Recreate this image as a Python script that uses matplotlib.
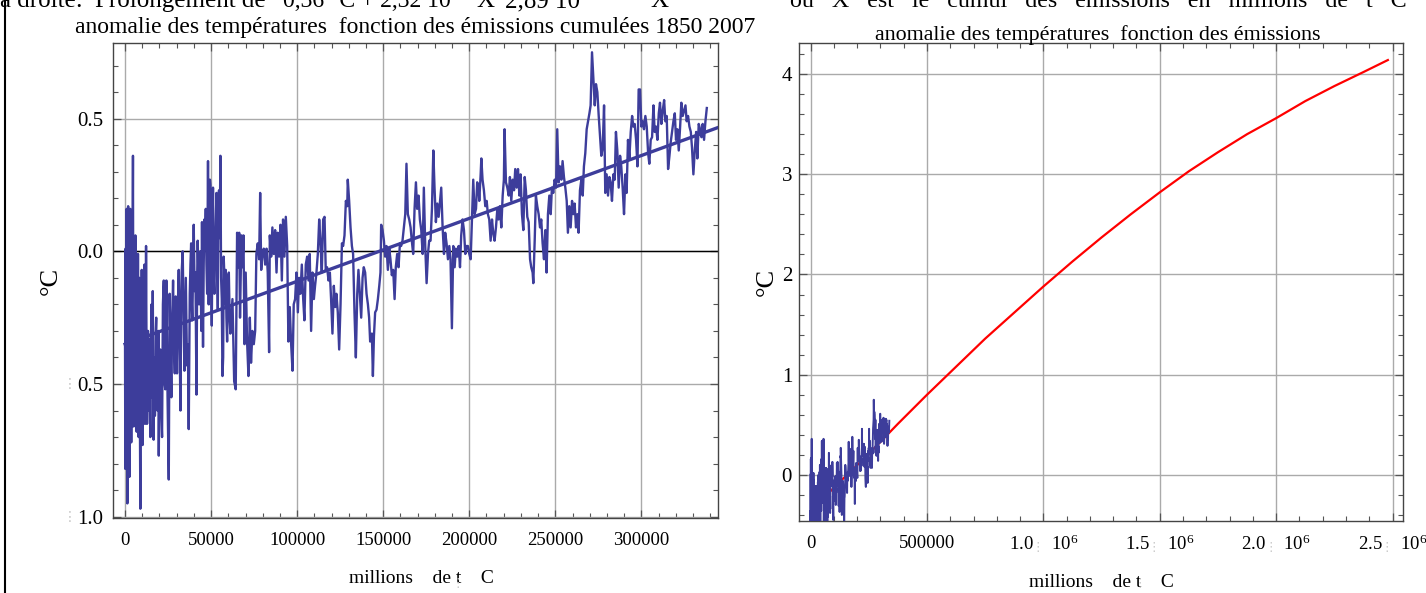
import matplotlib.pyplot as plt
from matplotlib.lines import Line2D
from matplotlib.ticker import MultipleLocator, FixedLocator
import matplotlib.transforms as mtransforms

plt.rcParams['font.family'] = ['Liberation Serif', 'DejaVu Sans']
plt.rcParams['mathtext.fontset'] = 'custom'
plt.rcParams['mathtext.rm'] = 'Liberation Serif'

# cumulative emissions (millions of t C) / temperature anomaly (deg C)
# 1) the dense start, 0 - 62000
emis_a = [
    0, 150, 300, 450, 600, 750, 900, 1050, 1200, 1350, 1500, 1650, 1800, 1950, 2100, 2250, 2400,
    2550, 2700, 2850, 3000, 3200, 3400, 3600, 3800, 4000, 4300, 4600, 4800, 5000, 5200, 5400,
    5600, 5800, 6000, 6250, 6500, 6750, 7000, 7250, 7500, 7700, 7900, 8100, 8300, 8600, 8900,
    9100, 9300, 9500, 9700, 9950, 10200, 10500, 10800, 11050, 11300, 11550, 11800, 12000, 12200,
    12500, 12800, 13050, 13300, 13800, 14300, 14500, 14700, 15000, 15400, 15750, 16100, 16350,
    16600, 16850, 17100, 17350, 17600, 17850, 18100, 18350, 18600, 18850, 19100, 19350, 19600,
    19850, 20100, 20500, 21000, 21500, 22000, 22500, 23000, 23400, 24000, 24700, 25400, 25900,
    26400, 26900, 27400, 27900, 28400, 28900, 29400, 30200, 30700, 31200, 31700, 32200, 32600,
    32900, 33500, 34000, 34500, 35300, 35700, 36000, 36500, 37000, 37600, 38000, 38400, 38800,
    39100, 39900, 40400, 40900, 41500, 41900, 42200, 43000, 43400, 43800, 44300, 44700, 45300,
    45700, 46100, 46500, 46900, 47300, 47700, 48200, 48600, 49000, 49300, 49600, 50000, 50400,
    50800, 51100, 51500, 51900, 52500, 53100, 53500, 53900, 54300, 54600, 55000, 55400, 55800,
    56200, 56600, 57000, 57300, 57700, 58100, 58500, 58900, 59300, 59800, 60300, 60800, 61200,
]
anom_a = [
    -0.36, -0.82, 0.01, -0.65, -0.20, -0.78, 0.16, -0.55, 0.15, -0.95, -0.35, -0.70, 0.17, -0.50,
    -0.77, 0.10, -0.45, -0.85, -0.05, -0.60, 0.16, -0.62, -0.15, -0.72, -0.05, -0.66, -0.10,
    0.36, -0.40, -0.66, -0.05, 0.05, -0.55, -0.20, 0.06, -0.59, -0.30, -0.68, -0.20, -0.55,
    -0.01, -0.45, -0.70, -0.30, -0.10, -0.60, -0.97, -0.50, -0.30, -0.65, -0.07, -0.45, -0.73,
    -0.40, -0.65, -0.35, -0.05, -0.45, -0.65, -0.30, 0.02, -0.40, -0.65, -0.45, -0.30, -0.60,
    -0.33, -0.60, -0.70, -0.35, -0.20, -0.55, -0.15, -0.45, -0.71, -0.50, -0.40, -0.62, -0.56,
    -0.30, -0.25, -0.50, -0.38, -0.60, -0.55, -0.30, -0.77, -0.55, -0.40, -0.37, -0.60, -0.70,
    -0.20, -0.11, -0.50, -0.52, -0.11, -0.55, -0.86, -0.16, -0.35, -0.55, -0.25, -0.11, -0.35,
    -0.46, -0.17, -0.46, -0.20, -0.07, -0.35, -0.60, -0.20, -0.08, 0.00, -0.25, -0.45, -0.10,
    -0.30, -0.43, -0.35, -0.67, -0.16, -0.05, 0.03, -0.20, -0.26, 0.10, -0.15, -0.08, -0.54,
    -0.10, 0.04, -0.20, -0.08, 0.00, -0.30, 0.11, -0.36, -0.05, 0.12, 0.05, 0.16, -0.05, -0.16,
    0.34, -0.20, 0.07, 0.27, 0.25, -0.10, -0.28, 0.10, 0.24, -0.10, -0.16, 0.05, 0.22, -0.05,
    -0.22, 0.20, 0.23, 0.05, 0.36, -0.10, -0.18, -0.47, -0.40, -0.02, -0.09, -0.20, -0.07,
    -0.25, -0.34, -0.10, -0.08, -0.26, -0.31,
]
# 2) 62000 - 134000
emis_b = [
    62400, 63400, 64300, 65100, 65900, 66300, 66800, 67600, 68200, 68800, 69400, 70100, 70900,
    71700, 72500, 73200, 74000, 74800, 75600, 76300, 77100, 77900, 78500, 79100, 79800, 80600,
    81400, 82200, 82900, 83700, 84100, 84900, 85600, 86400, 87200, 88000, 88700, 89500, 90300,
    91100, 91800, 92600, 93400, 94200, 94900, 95700, 96500, 97300, 98000, 98800, 99600, 100400,
    101100, 101900, 102700, 103500, 104200, 105000, 105800, 106600, 107300, 108100, 108900,
    109700, 110400, 111200, 112000, 112800, 113500, 114300, 115100, 115900, 116600, 117400,
    118200, 119000, 119700, 120500, 121300, 122100, 122800, 123600, 124400, 125200, 126000,
    126700, 127500, 128300, 129100, 129400, 130200, 131000, 131800, 132500, 133300, 134100,
]
anom_b = [
    -0.18, -0.49, -0.52, 0.07, -0.06, 0.07, -0.25, 0.06, -0.06, 0.06, -0.35, -0.08, -0.34,
    -0.47, -0.25, -0.42, -0.30, -0.35, -0.30, -0.01, 0.03, -0.03, 0.22, -0.07, -0.01, 0.01,
    -0.05, 0.01, -0.08, -0.38, 0.06, -0.02, 0.09, -0.01, 0.08, -0.08, 0.07, -0.02, 0.10,
    -0.11, 0.12, -0.02, 0.13, 0.02, -0.34, -0.21, -0.35, -0.45, -0.20, -0.18, -0.08, -0.23,
    -0.10, -0.16, -0.05, -0.18, -0.26, -0.05, -0.02, -0.11, -0.01, -0.30, -0.08,
    -0.18, -0.13, -0.08, -0.01, 0.12, 0.04, -0.08, 0.12, 0.13, -0.07, -0.06,
    -0.11, -0.08, -0.18, -0.31, -0.13, -0.21, -0.16, -0.23, -0.37, -0.20, 0.03,
    0.02, 0.06, 0.19, 0.17, 0.27, 0.19, 0.09, 0.02, -0.01, -0.23, -0.40,
]
# 3) 134000 - 206000
emis_c = [
    134900, 135600, 136400, 137200, 138000, 138700, 139500, 140300, 141100, 141800, 142400,
    143400, 144000, 144600, 145300, 146100, 146900, 147700, 148400, 148800, 149600, 150400,
    151100, 151900, 152700, 153500, 154200, 155000, 155800, 156600, 157300, 158100, 158900,
    159700, 160400, 161200, 162000, 162800, 163500, 164300, 165100, 165900, 166600, 167400,
    168200, 169000, 169700, 170500, 171300, 172100, 172900, 173600, 174400, 175200, 176000,
    176700, 177500, 178300, 179100, 179800, 180600, 181400, 182200, 182900, 183700, 184500,
    185300, 186000, 186800, 187600, 188400, 189100, 189900, 190700, 191500, 192200, 193000,
    193800, 194600, 195300, 196100, 196900, 197700, 198400, 199200, 200000, 200800, 201500,
    202300, 203100, 203900, 204600, 205400,
]
anom_c = [
    -0.16, -0.07, -0.16, -0.25, -0.10, -0.06, -0.08, -0.16, -0.20, -0.25, -0.34,
    -0.31, -0.47, -0.32, -0.23, -0.22, -0.18, -0.13, -0.08, 0.10, 0.08, 0.04,
    -0.02, 0.02, -0.07, 0.01, -0.03, -0.09, -0.07, -0.18, -0.06, -0.01, -0.06,
    0.03, 0.02, 0.04, 0.09, 0.14, 0.33, 0.14, 0.12, 0.09, 0.04, -0.01,
    0.16, 0.26, 0.16, 0.21, 0.12, 0.08, -0.01, 0.24, 0.02, -0.12, -0.01,
    0.04, 0.04, 0.16, 0.38, 0.24, 0.11, 0.18, 0.13, 0.18, 0.24, 0.09,
    -0.01, 0.07, 0.03, -0.03, 0.02, -0.03, -0.29, 0.02, -0.06, 0.01, -0.02,
    0.02, -0.06, 0.06, 0.12, 0.08, -0.01, 0.02, 0.02, -0.01, -0.03, 0.11,
    0.27, 0.14, 0.16, 0.26, 0.24,
]
# 4) 206000 - 276000
emis_d = [
    205800, 206600, 207000, 207700, 208500, 209300, 210100, 210800, 211600, 212400, 213200,
    213900, 214700, 215500, 216300, 217000, 217800, 218600, 219400, 220100, 220500, 221300,
    222100, 222900, 223600, 224400, 225200, 226000, 226700, 227500, 228300, 229100, 229800,
    230600, 231400, 232200, 232900, 233700, 234500, 235300, 236000, 236800, 237200, 238000,
    238700, 239500, 240300, 241100, 241800, 242600, 243400, 244200, 244900, 245700, 246500,
    247300, 248000, 248800, 249600, 250400, 251100, 251900, 252700, 253500, 254200, 255000,
    255800, 256600, 257300, 258100, 258900, 259700, 260400, 261200, 262000, 262800, 263500,
    264300, 265100, 265900, 266600, 267400, 268200, 269000, 269800, 270500, 271300, 272100,
    272900, 273600, 274400, 275200,
]
anom_d = [
    0.19, 0.29, 0.35, 0.27, 0.23, 0.17, 0.19, 0.14, 0.12, 0.04, 0.12,
    0.07, 0.04, 0.09, 0.16, 0.12, 0.17, 0.09, 0.21, 0.27, 0.46, 0.26,
    0.24, 0.21, 0.28, 0.19, 0.27, 0.23, 0.31, 0.24, 0.31, 0.21, 0.29,
    0.14, 0.08, 0.28, 0.23, 0.13, 0.11, -0.03, -0.06, -0.08, -0.12, 0.04,
    0.21, 0.17, 0.14, 0.09, 0.12, 0.03, -0.03, 0.08, -0.08, 0.14, 0.21,
    0.14, 0.24, 0.22, 0.27, 0.24, 0.46, 0.26, 0.32, 0.27, 0.34, 0.28,
    0.24, 0.19, 0.07, 0.17, 0.09, 0.19, 0.14, 0.18, 0.09, 0.14, 0.07,
    0.23, 0.27, 0.21, 0.32, 0.37, 0.46, 0.49, 0.52, 0.55, 0.75, 0.65,
    0.55, 0.63, 0.60, 0.51,
]
# 5) 276000 - 338000
emis_e = [
    276700, 277500, 278300, 279000, 279800, 280600, 281400, 282100, 282900, 283700, 284500,
    285200, 286000, 286800, 287600, 288300, 289100, 289900, 290700, 291400, 292200, 293000,
    293800, 294600, 295300, 296100, 296900, 297700, 298400, 299200, 300000, 300800, 301500,
    302300, 303100, 303900, 304600, 305400, 306200, 307000, 307700, 308500, 309300, 310100,
    310800, 311600, 312400, 313200, 313900, 314700, 315500, 316300, 317000, 317800, 318600,
    319400, 320100, 320900, 321700, 322500, 323200, 324000, 324800, 325600, 326300, 327100,
    327900, 328700, 329400, 330200, 331000, 331800, 332500, 333300, 334100, 334900, 335600,
    336400, 337200, 338000,
]
anom_e = [
    0.36, 0.39, 0.55, 0.22, 0.29, 0.21, 0.28, 0.26, 0.19, 0.29, 0.27,
    0.45, 0.38, 0.24, 0.36, 0.32, 0.24, 0.14, 0.29, 0.22, 0.42, 0.35,
    0.45, 0.51, 0.47, 0.48, 0.42, 0.32, 0.61, 0.61, 0.47, 0.49, 0.46,
    0.51, 0.47, 0.37, 0.33, 0.42, 0.43, 0.55, 0.45, 0.47, 0.42, 0.52,
    0.56, 0.48, 0.53, 0.57, 0.49, 0.51, 0.31, 0.36, 0.41, 0.45, 0.49,
    0.52, 0.42, 0.46, 0.38, 0.47, 0.56, 0.51, 0.53, 0.55, 0.49, 0.51,
    0.47, 0.45, 0.39, 0.29, 0.38, 0.45, 0.35, 0.48, 0.46, 0.43, 0.48,
    0.42, 0.49, 0.54,
]
emis = emis_a + emis_b + emis_c + emis_d + emis_e
anom = anom_a + anom_b + anom_c + anom_d + anom_e

# linear fit on the left panel
fit_x = [0, 346000]
fit_y = [-0.35, 0.47]

# red extension on the right panel
ext_x = [0, 125000, 250000, 375000, 500000, 625000, 750000, 875000, 1000000, 1125000, 1250000,
         1375000, 1500000, 1625000, 1750000, 1875000, 2000000, 2125000, 2250000, 2375000, 2480000]
ext_y = [-0.36, -0.07, 0.21, 0.51, 0.80, 1.08, 1.36, 1.62, 1.88, 2.13, 2.37,
         2.60, 2.82, 3.03, 3.22, 3.40, 3.56, 3.73, 3.88, 4.02, 4.14]

left_yticks = [-1.0, -0.5, 0.0, 0.5]
left_ylabels = ['1.0', '0.5', '0.0', '0.5']
left_xticks = [0, 50000, 100000, 150000, 200000, 250000, 300000]
left_xlabels = ['0', '50000', '100000', '150000', '200000', '250000', '300000']
right_xticks = [0, 500000, 1000000, 1500000, 2000000, 2500000]
right_xlabels = ['0', '500000', '1.0    $\\mathregular{10^6}$', '1.5    $\\mathregular{10^6}$',
                 '2.0    $\\mathregular{10^6}$', '2.5    $\\mathregular{10^6}$']
right_yticks = [0, 1, 2, 3, 4]

blue = '#3d3d9b'
W, H = 1426, 593

fig = plt.figure(figsize=(W / 100, H / 100), dpi=100)
ax1 = fig.add_axes([113 / W, 75 / H, 605 / W, 475 / H])
ax2 = fig.add_axes([799 / W, 72 / H, 604 / W, 478 / H])


def frame(ax):
    for s in ax.spines.values():
        s.set_color('#444444')
        s.set_linewidth(1.0)
    ax.tick_params(which='both', direction='in', top=True, right=True, color='#555555')
    ax.tick_params(which='major', length=6, width=0.9)
    ax.tick_params(which='minor', length=3.5, width=0.8)
    ax.tick_params(axis='x', pad=10, labelsize=13.5)
    ax.tick_params(axis='y', pad=7, labelsize=15)
    ax.grid(True, which='major', color='#aaaaaa', linewidth=1.0)
    ax.set_axisbelow(True)


def faint(x, y, transform, size=10):
    # grey box glyph left where a sign was lost in the export
    fig.text(x, y, '⋮', transform=transform, ha='center', va='center', fontsize=size,
             color='#c8c8c8', family='DejaVu Sans')


# left panel
frame(ax1)
ax1.plot(emis, anom, color=blue, lw=1.7, zorder=3)
ax1.plot(fit_x, fit_y, color=blue, lw=2.4, zorder=4)
ax1.axhline(0, color='black', lw=1.0, zorder=2)
ax1.set_xlim(-7000, 344500)
ax1.set_ylim(-1.005, 0.785)
ax1.xaxis.set_major_locator(FixedLocator(left_xticks))
ax1.set_xticklabels(left_xlabels)
ax1.xaxis.set_minor_locator(MultipleLocator(10000))
ax1.yaxis.set_major_locator(FixedLocator(left_yticks))
ax1.set_yticklabels(left_ylabels)
ax1.yaxis.set_minor_locator(MultipleLocator(0.1))
ax1.set_xlabel('millions    de t    C', fontsize=14)
ax1.xaxis.set_label_coords(0.51, -0.11)
ax1.set_ylabel('°C', fontsize=19, rotation=90)
ax1.yaxis.set_label_coords(-0.085, 0.5)
fig.text(415 / W, 1 - 33 / H, 'anomalie des températures  fonction des émissions cumulées 1850 2007',
         ha='center', va='baseline', fontsize=17)

tr1 = mtransforms.blended_transform_factory(fig.transFigure, ax1.transData)
for v in [-1.0, -0.5]:
    faint(70 / W, v, tr1)

# right panel
frame(ax2)
ax2.plot(ext_x, ext_y, color='red', lw=1.6, zorder=3)
ax2.plot(emis, anom, color=blue, lw=1.4, zorder=4)
ax2.set_xlim(-50000, 2545000)
ax2.set_ylim(-0.46, 4.31)
ax2.xaxis.set_major_locator(FixedLocator(right_xticks))
ax2.set_xticklabels(right_xlabels)
ax2.xaxis.set_minor_locator(MultipleLocator(100000))
ax2.yaxis.set_major_locator(FixedLocator(right_yticks))
ax2.yaxis.set_minor_locator(MultipleLocator(0.2))
ax2.tick_params(axis='y', pad=5)
ax2.set_xlabel('millions    de t    C', fontsize=14)
ax2.xaxis.set_label_coords(0.5, -0.11)
ax2.set_ylabel('°C', fontsize=19, rotation=90)
ax2.yaxis.set_label_coords(-0.035, 0.5)
fig.text(1098 / W, 1 - 40 / H, 'anomalie des températures  fonction des émissions',
         ha='center', va='baseline', fontsize=15.8)

tr2 = mtransforms.blended_transform_factory(ax2.transData, fig.transFigure)
for v in right_xticks[2:]:
    faint(v - 25000, 1 - 548 / H, tr2, 9)
for cx in [458, 1140]:
    faint(cx / W, 1 - 583 / H, fig.transFigure, 9)

# text line of the page, cut off at the top
top_y = 1 - 7 / H
fig.text(0.0, top_y, 'à droite:', ha='left', va='baseline', fontsize=18)
fig.text(95 / W, top_y, 'Prolongement de', ha='left', va='baseline', fontsize=18)
fig.text(283 / W, top_y, '0,36 °C + 2,32 10', ha='left', va='baseline', fontsize=17)
fig.text(476 / W, top_y, 'X', ha='left', va='baseline', fontsize=18)
fig.text(505 / W, top_y, '2,89 10', ha='left', va='baseline', fontsize=18)
fig.text(650 / W, top_y, 'X', ha='left', va='baseline', fontsize=18)
fig.text(790 / W, top_y, 'où   X   est   le   cumul   des   émissions   en   millions   de   t   C',
         ha='left', va='baseline', fontsize=17.3)

# page frame on the left
fig.add_artist(Line2D([4.5 / W, 4.5 / W], [0, 1], color='black', lw=1.5))

fig.savefig('out.png', dpi=100)
